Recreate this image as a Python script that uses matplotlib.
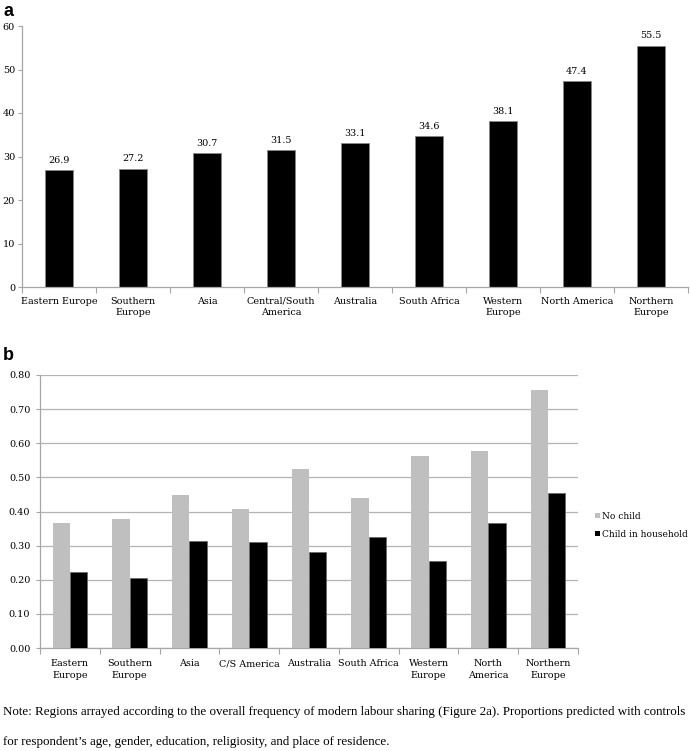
import matplotlib
matplotlib.use("Agg")
import matplotlib.pyplot as plt
import numpy as np
from matplotlib.patches import Patch

regions_a = ["Eastern Europe", "Southern\nEurope", "Asia", "Central/South\nAmerica",
             "Australia", "South Africa", "Western\nEurope", "North America", "Northern\nEurope"]
values_a = [26.9, 27.2, 30.7, 31.5, 33.1, 34.6, 38.1, 47.4, 55.5]

regions_b = ["Eastern\nEurope", "Southern\nEurope", "Asia", "C/S America", "Australia",
             "South Africa", "Western\nEurope", "North\nAmerica", "Northern\nEurope"]
no_child = [0.365, 0.377, 0.447, 0.407, 0.525, 0.440, 0.563, 0.576, 0.756]
child = [0.222, 0.206, 0.314, 0.311, 0.281, 0.324, 0.254, 0.365, 0.453]

serif = "DejaVu Serif"
tick_fs = 6.9
spine_col = "#a6a6a6"

fig = plt.figure(figsize=(6.9, 7.51), dpi=100)

# ---- panel a ----
axa = fig.add_axes([22/690, 1-287/751, 666/690, (287-26)/751])
x = np.arange(len(values_a))
axa.bar(x, values_a, width=0.39, color="black", edgecolor="#888888", linewidth=0.6)
for xi, v in zip(x, values_a):
    axa.text(xi, v + 1.2, f"{v:.1f}", ha="center", va="bottom", fontsize=tick_fs, family=serif)
axa.set_xlim(-0.5, len(values_a) - 0.5)
axa.set_ylim(0, 60)
axa.set_yticks(range(0, 61, 10))
axa.set_yticklabels([str(t) for t in range(0, 61, 10)], fontsize=tick_fs, family=serif)
axa.set_xticks(x)
axa.set_xticklabels(regions_a, fontsize=tick_fs, family=serif, linespacing=1.35)
axa.tick_params(axis="x", length=0, pad=7)
axa.set_xticks(np.arange(-0.5, len(values_a)), minor=True)
axa.tick_params(axis="x", which="minor", length=4, color=spine_col, width=0.8)
axa.tick_params(axis="y", length=3, color=spine_col, width=0.8, pad=2)
for s in ["top", "right"]:
    axa.spines[s].set_visible(False)
for s in ["left", "bottom"]:
    axa.spines[s].set_color(spine_col)
    axa.spines[s].set_linewidth(0.9)
fig.text(4/690, 1-12/751, "a", fontsize=13, fontweight="bold", family="Liberation Sans",
         ha="left", va="center")

# ---- panel b ----
axb = fig.add_axes([40/690, 1-648/751, 538/690, (648-375)/751])
xb = np.arange(len(no_child))
w = 0.29
axb.bar(xb - w/2, no_child, width=w, color="#bfbfbf", label="No child", zorder=3)
axb.bar(xb + w/2, child, width=w, color="black", edgecolor="#666666", linewidth=0.5,
        label="Child in household", zorder=3)
axb.set_xlim(-0.5, len(no_child) - 0.5)
axb.set_ylim(0, 0.8)
yt = np.arange(0, 0.81, 0.1)
axb.set_yticks(yt)
axb.set_yticklabels([f"{t:.2f}" for t in yt], fontsize=tick_fs, family=serif)
axb.yaxis.grid(True, color="#b3b3b3", linewidth=0.9, zorder=0)
axb.set_axisbelow(True)
axb.set_xticks(xb)
axb.set_xticklabels(regions_b, fontsize=tick_fs, family=serif, linespacing=1.35)
axb.tick_params(axis="x", length=0, pad=8)
axb.set_xticks(np.arange(-0.5, len(no_child)), minor=True)
axb.tick_params(axis="x", which="minor", length=4, color=spine_col, width=0.8)
axb.tick_params(axis="y", length=3, color=spine_col, width=0.8, pad=4)
for s in ["top", "right"]:
    axb.spines[s].set_visible(False)
for s in ["left", "bottom"]:
    axb.spines[s].set_color(spine_col)
    axb.spines[s].set_linewidth(0.9)
handles = [Patch(facecolor="#bfbfbf", label="No child"),
           Patch(facecolor="black", label="Child in household")]
axb.legend(handles=handles, loc="center left", bbox_to_anchor=(1.015, 0.45),
           frameon=False, prop={"family": serif, "size": 6.5},
           handlelength=0.55, handleheight=0.55, handletextpad=0.2, labelspacing=1.0,
           borderpad=0.2, borderaxespad=0.8)
fig.text(3/690, 1-356/751, "b", fontsize=13, fontweight="bold", family="Liberation Sans",
         ha="left", va="center")

# ---- note ----
fig.text(3/690, 1-712/751,
         "Note: Regions arrayed according to the overall frequency of modern labour sharing (Figure 2a). Proportions predicted with controls",
         fontsize=9.4, family="Liberation Serif", ha="left", va="center")
fig.text(3/690, 1-742/751,
         "for respondent\u2019s age, gender, education, religiosity, and place of residence.",
         fontsize=9.4, family="Liberation Serif", ha="left", va="center")

fig.savefig("out.png", dpi=100)
